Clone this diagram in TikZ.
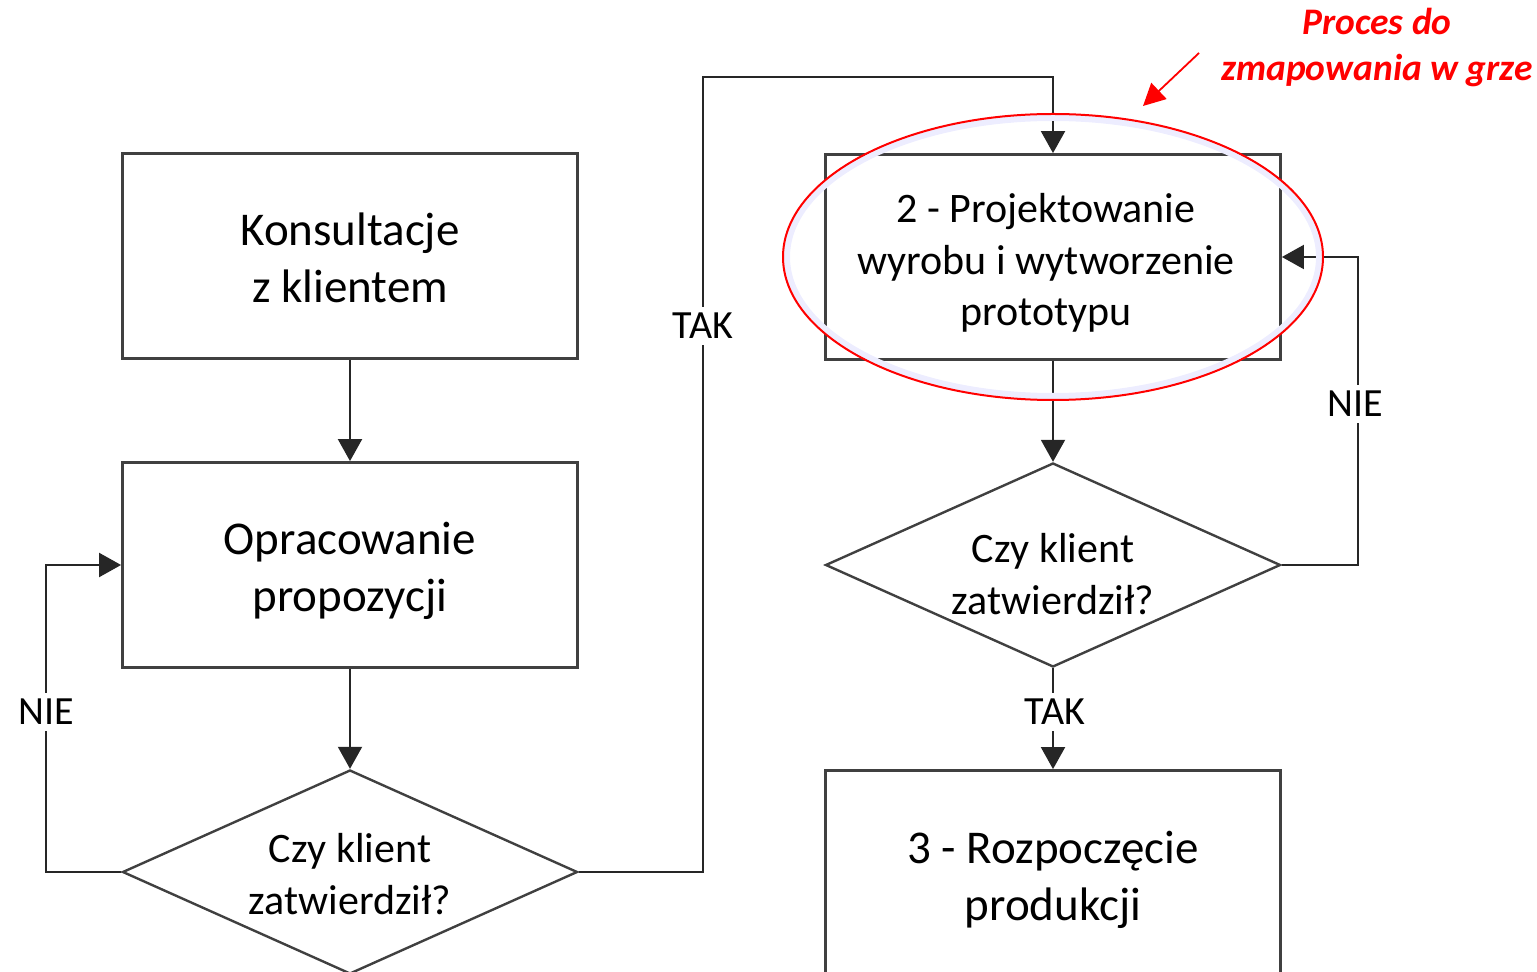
\documentclass[tikz,border=0pt]{standalone}
\usepackage{fontspec}
\setmainfont{Carlito}
\usetikzlibrary{arrows.meta, shapes.geometric}

\tikzset{
	box/.style = {draw = black!75, line width = 1.4pt, minimum width = 227.5pt, minimum height = 102.5pt, inner sep = 0pt},
	bigtext/.style = {align = center, font = \fontsize{23.5}{28.5}\selectfont},
	midtext/.style = {align = center, font = \fontsize{21}{25.75}\selectfont},
	decision/.style = {diamond, draw = black!75, line width = 1.2pt, minimum width = 227.5pt, minimum height = 102pt, aspect = 2.23, inner sep = 0pt},
	answer/.style = {fill = white, inner sep = 3pt, font = \fontsize{20}{24}\selectfont},
	flow/.style = {black!85, line width = 1pt, -{Triangle[width = 12pt, length = 11pt]}}
}

\begin{document}
\begin{tikzpicture}[x = 0.5pt, y = -0.5pt]
	\useasboundingbox (0,0) rectangle (1537,972);
	
	\coordinate (nieL) at (46,872);
	\coordinate (takL) at (703,77);
	\coordinate (nieR) at (1358,565);
	\coordinate (noteTail) at (1199,53);
	\coordinate (noteTip) at (1143,106);
	
	\node [box, label = {[bigtext, yshift = -1pt]center:Konsultacje\\z klientem}] (konsultacje) at (350,256) {};
	\node [box, label = {[bigtext, yshift = -3pt]center:Opracowanie\\propozycji}] (opracowanie) at (350,565) {};
	\node [decision, label = {[midtext, yshift = -1pt]center:Czy klient\\zatwierdził?}] (decyzja1) at (350,872) {};
	\node [box, label = {[midtext, xshift = -3.5pt, yshift = -3pt]center:2 - Projektowanie\\wyrobu i wytworzenie\\prototypu}] (projekt) at (1053,257) {};
	\node [decision, label = {[midtext, yshift = -4.5pt]center:Czy klient\\zatwierdził?}] (decyzja2) at (1053,565) {};
	\node [box, label = {[bigtext, yshift = -3.5pt]center:3 - Rozpoczęcie\\produkcji}] (produkcja) at (1053,873) {};
	
	\begin{scope}[flow]
	\draw (konsultacje.south) -- (opracowanie.north);
	\draw (opracowanie.south) -- (decyzja1.north);
	\draw (decyzja1.west) -- (nieL) |- (opracowanie.west);
	\draw (decyzja1.east) -| (takL) -| (projekt.north);
	\draw (projekt.south) -- (decyzja2.north);
	\draw (decyzja2.east) -- (nieR) |- (projekt.east);
	\draw (decyzja2.south) -- (produkcja.north);
	\end{scope}
	
	\node [answer] (nie1) at (46,712) {NIE};
	\node [answer] (tak1) at (703,326) {TAK};
	\node [answer] (nie2) at (1355,404) {NIE};
	\node [answer] (tak2) at (1055,712) {TAK};
	
	\draw [blue!7, line width = 3pt] (projekt.center) ellipse [x radius = 133pt, y radius = 69.5pt];
	\draw [red, line width = 1pt] (projekt.center) ellipse [x radius = 135pt, y radius = 71.5pt];
	\draw [red, line width = 0.9pt, -{Triangle[width = 11pt, length = 11pt]}] (noteTail) -- (noteTip);
	\node [red, align = center, font = \fontsize{18.75}{23}\selectfont\bfseries\itshape] (note) at (1377,48) {Proces do\\zmapowania w grze};
\end{tikzpicture}
\end{document}
